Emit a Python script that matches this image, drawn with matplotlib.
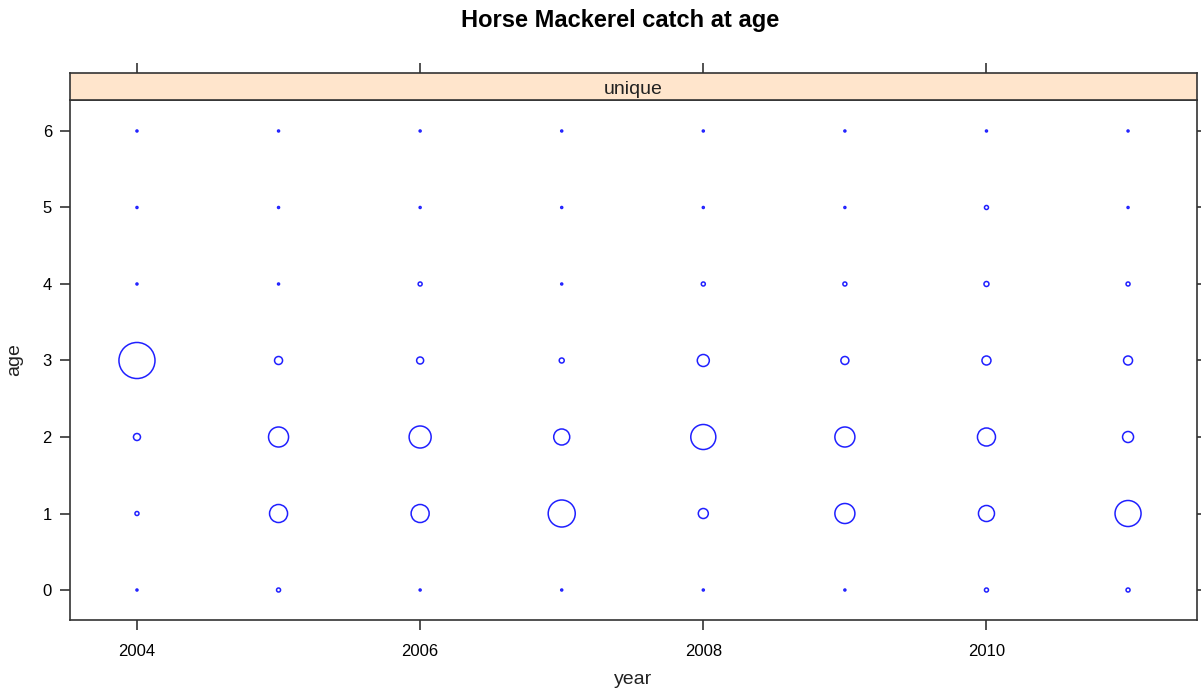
import matplotlib.pyplot as plt
import numpy as np

plt.rcParams['font.family'] = ['Liberation Sans', 'DejaVu Sans']

years = [2004, 2005, 2006, 2007, 2008, 2009, 2010, 2011]
ages = [0, 1, 2, 3, 4, 5, 6]

# catch at age, one list per age class (columns follow years)
catch_age0 = [4, 16, 4, 4, 4, 4, 16, 16]
catch_age1 = [16, 324, 324, 729, 100, 400, 256, 676]
catch_age2 = [49, 400, 484, 256, 625, 400, 324, 121]
catch_age3 = [1296, 64, 49, 25, 144, 64, 81, 81]
catch_age4 = [4, 4, 16, 4, 16, 16, 25, 16]
catch_age5 = [4, 4, 4, 4, 4, 4, 16, 4]
catch_age6 = [4, 4, 4, 4, 4, 4, 4, 4]

catch = np.array([catch_age0, catch_age1, catch_age2, catch_age3,
                  catch_age4, catch_age5, catch_age6], dtype=float)

fig = plt.figure(figsize=(12.01, 6.95), dpi=100)

L, R = 70 / 1201, 1197 / 1201
B, T = (695 - 620) / 695, (695 - 100) / 695
ST = (695 - 73) / 695
ax = fig.add_axes([L, B, R - L, T - B])
strip = fig.add_axes([L, T, R - L, ST - T])

axcol = '#333333'

# bubbles: marker area proportional to catch
X, Y = np.meshgrid(years, ages)
sizes = catch * 0.52
ax.scatter(X.ravel(), Y.ravel(), s=sizes.ravel(), facecolors='none',
           edgecolors='#2020ff', linewidths=1.1)

ax.set_xlim(2003.527, 2011.487)
ax.set_ylim(-0.392, 6.405)
ax.set_xticks([2004, 2006, 2008, 2010])
ax.set_yticks(ages)
ax.tick_params(axis='both', direction='out', length=7, width=1.2,
               colors=axcol, labelcolor='black', labelsize=12, pad=6)
ax.tick_params(axis='x', pad=10)
ax.tick_params(axis='y', right=True, labelright=False)
for sp in ax.spines.values():
    sp.set_color(axcol)
    sp.set_linewidth(1.2)
ax.set_xlabel('year', fontsize=14, labelpad=9, color='#222222')
ax.set_ylabel('age', fontsize=14, labelpad=14, color='#222222')

# strip on top of the panel
strip.set_facecolor('#ffe5cc')
strip.set_xlim(ax.get_xlim())
strip.set_ylim(0, 1)
strip.set_xticks([2004, 2006, 2008, 2010])
strip.set_yticks([])
strip.tick_params(axis='x', bottom=False, top=True, labelbottom=False,
                  direction='out', length=7, width=1.2, colors=axcol)
for sp in strip.spines.values():
    sp.set_color(axcol)
    sp.set_linewidth(1.2)
strip.text(0.5, 0.4, 'unique', transform=strip.transAxes, ha='center',
           va='center', fontsize=14, color='#222222')

fig.text(620 / 1201, 1 - 21 / 695, 'Horse Mackerel catch at age',
         ha='center', va='center', fontsize=17, fontweight='bold')

fig.savefig('out.png', dpi=100)
